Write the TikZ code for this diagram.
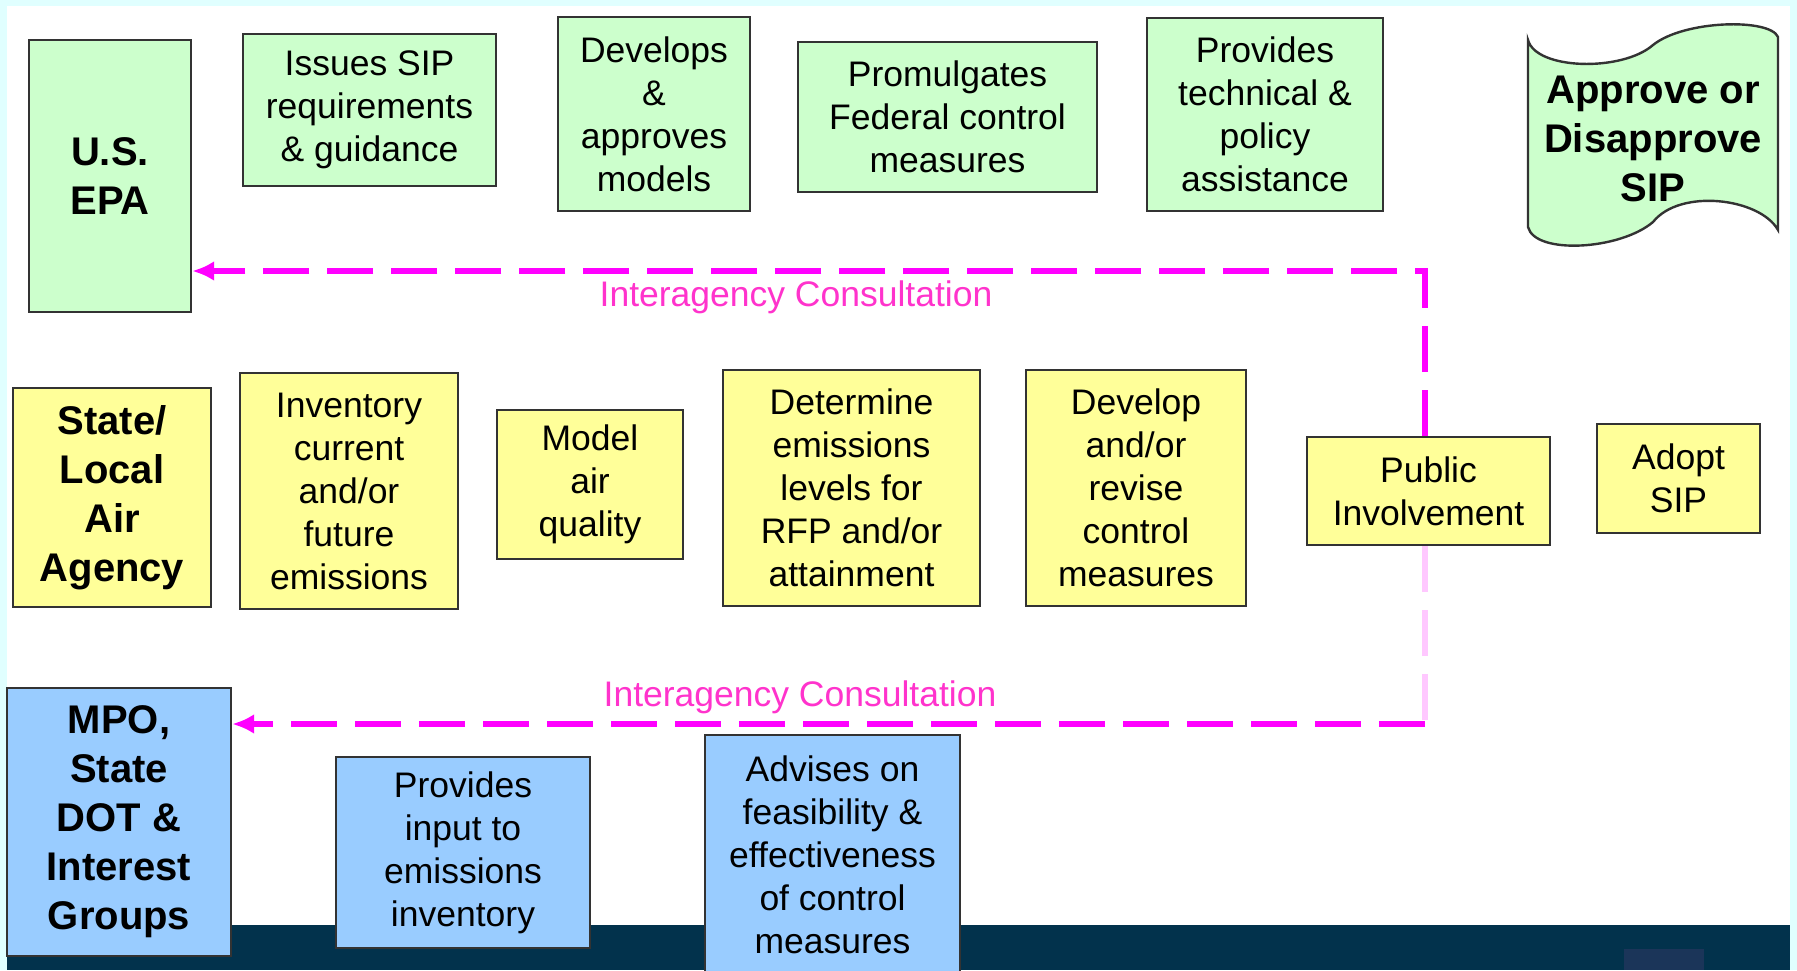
\documentclass[tikz,border=0pt]{standalone}
\usepackage{fontspec}
\setmainfont{Liberation Sans}
\usetikzlibrary{arrows.meta, positioning}

\definecolor{epagreen}{RGB}{204,255,204}
\definecolor{stateyellow}{RGB}{255,255,153}
\definecolor{mpoblue}{RGB}{153,204,255}
\definecolor{consultpink}{RGB}{255,0,255}
\definecolor{labelpink}{RGB}{255,51,204}
\definecolor{fadedpink}{RGB}{255,200,255}
\definecolor{slidecyan}{RGB}{224,255,255}
\definecolor{slidenavy}{RGB}{2,50,76}
\definecolor{navypatch}{RGB}{27,53,89}

\begin{document}
\begin{tikzpicture}[
    x=0.5pt, y=-0.5pt,
    box/.style={rectangle, draw=black!80, line width=1.2pt, inner sep=0pt, align=center,
        font=\fontsize{17.75pt}{21.5pt}\selectfont},
    agency/.style={align=center, font=\fontsize{20pt}{24.5pt}\selectfont\bfseries},
    epabox/.style={box, fill=epagreen},
    statebox/.style={box, fill=stateyellow},
    mpobox/.style={box, fill=mpoblue},
    consult/.style={draw=consultpink, line width=3pt, dash pattern=on 23pt off 9pt},
    faintconsult/.style={consult, draw=fadedpink},
    consultlabel/.style={text=labelpink, font=\fontsize{17.75pt}{21.5pt}\selectfont}
]

% Slide frame and bottom band
\fill[slidecyan] (0,0) rectangle (1797,970);
\fill[white] (7,6) rectangle (1790,970);
\fill[slidenavy] (7,925) rectangle (1790,970);
\fill[navypatch] (1624,949) rectangle (1704,970);
\useasboundingbox (0,0) rectangle (1797,970);

% EPA row
\node[epabox, agency, minimum width=81pt, minimum height=136pt] (epa) at (110,176) {U.S.\\EPA};
\node[epabox, minimum width=126.5pt, minimum height=76pt] (issues) at (369.5,110) {Issues SIP\\requirements\\\& guidance};
\node[epabox, minimum width=96pt, minimum height=97pt] (models) at (654,114) {Develops\\\&\\approves\\models};
\node[epabox, minimum width=149.5pt, minimum height=75pt] (fcm) at (947.5,117) {Promulgates\\Federal control\\measures};
\node[epabox, minimum width=118pt, minimum height=96.5pt] (assist) at (1265,114.5) {Provides\\technical \&\\policy\\assistance};

% scroll for the final decision
\filldraw[fill=epagreen, draw=black!80, line width=1.2pt]
    (1528,40) .. controls (1536,70) and (1622,72) .. (1653,45)
    .. controls (1684,20) and (1770,18) .. (1778,37)
    -- (1778,230)
    .. controls (1760,198) and (1680,188) .. (1653,222)
    .. controls (1620,250) and (1535,255) .. (1528,227) -- cycle;
\node[agency] (approve) at (1653,139) {Approve or\\Disapprove\\SIP};

% State / local row
\node[statebox, agency, minimum width=99pt, minimum height=109.5pt] (state) at (112,497.5) {State/\\Local\\Air\\Agency};
\node[statebox, minimum width=109pt, minimum height=118pt] (inventory) at (349,491) {Inventory\\current\\and/or\\future\\emissions};
\node[statebox, minimum width=93pt, minimum height=74.5pt] (airmodel) at (590,484.5) {Model\\air\\quality};
\node[statebox, minimum width=128.5pt, minimum height=118pt] (levels) at (851.5,488) {Determine\\emissions\\levels for\\RFP and/or\\attainment};
\node[statebox, minimum width=110pt, minimum height=118pt] (measures) at (1136,488) {Develop\\and/or\\revise\\control\\measures};
\node[statebox, minimum width=121.5pt, minimum height=54pt] (pub) at (1428.5,491) {Public\\Involvement};
\node[statebox, minimum width=81.5pt, minimum height=54.5pt] (adopt) at (1678.5,478.5) {Adopt\\SIP};

% MPO row
\node[mpobox, agency, minimum width=112pt, minimum height=134pt] (mpo) at (119,822) {MPO,\\State\\DOT \&\\Interest\\Groups};
\node[mpobox, minimum width=127pt, minimum height=95.5pt] (input) at (463,852.5) {Provides\\input to\\emissions\\inventory};
\node[mpobox, minimum width=127.5pt, minimum height=120pt] (advise) at (832.5,855) {Advises on\\feasibility \&\\effectiveness\\of control\\measures};

% consultation loops
\coordinate (pubtop) at ([xshift=-2pt]pub.north);
\coordinate (pubbottom) at ([xshift=-2pt]pub.south);
\coordinate (upturn) at (pubtop |- 0,271);
\coordinate (lowturn) at (pubbottom |- 0,724);
\draw[consult, -{Latex[length=11pt, width=10pt]}] (pubtop) -- (upturn) -- (upturn -| epa.east);
\draw[faintconsult] (pubbottom) -- (lowturn);
\draw[consult, -{Latex[length=11pt, width=10pt]}] (lowturn) -- (lowturn -| mpo.east);
\node[consultlabel] (uplabel) at (796,297) {Interagency Consultation};
\node[consultlabel] (lowlabel) at (800,697) {Interagency Consultation};

\end{tikzpicture}
\end{document}
